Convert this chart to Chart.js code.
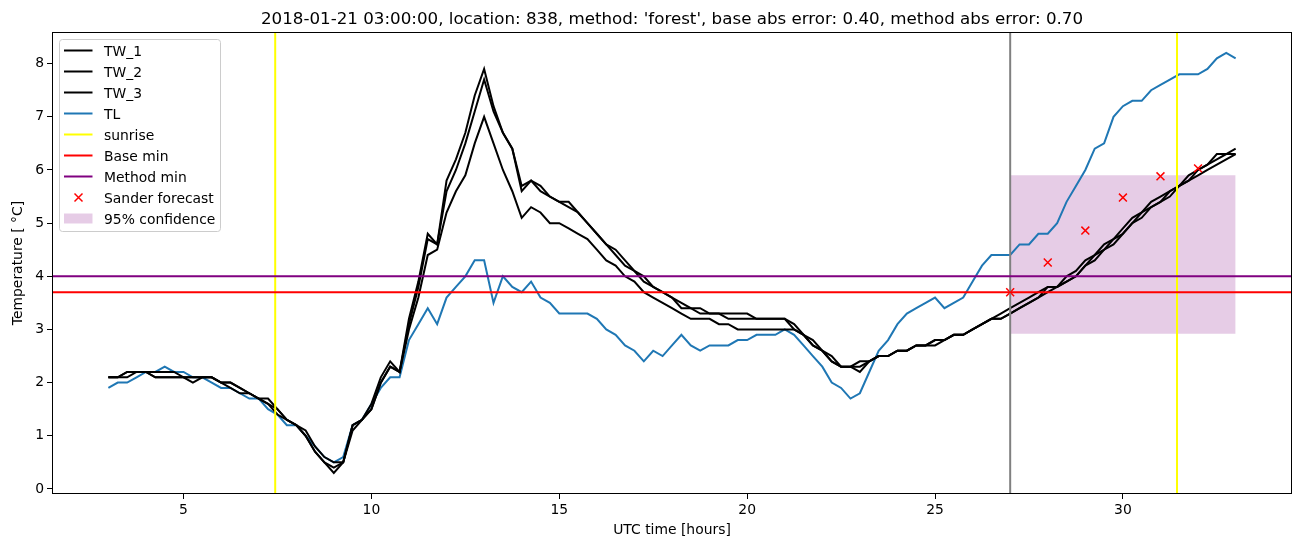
<!DOCTYPE html>
<html lang="en">
<head>
  <meta charset="UTF-8" />
  <title>Forecast location 838</title>
  <script src="https://cdn.jsdelivr.net/npm/chart.js"></script>
  <style>
    html, body { margin: 0; padding: 0; background: #fff; }
    #wrap { width: 1302px; height: 547px; position: relative; }
  </style>
</head>
<body>
  <div id="wrap"><canvas id="chart"></canvas></div>

  <script>
    // hours since 2018-01-21 00:00 UTC
    const hours = [
      3, 3.25, 3.5, 3.75, 4, 4.25, 4.5, 4.75, 5, 5.25, 5.5, 5.75,
      6, 6.25, 6.5, 6.75, 7, 7.25, 7.5, 7.75, 8, 8.25, 8.5, 8.75,
      9, 9.25, 9.5, 9.75, 10, 10.25, 10.5, 10.75, 11, 11.25, 11.5, 11.75,
      12, 12.25, 12.5, 12.75, 13, 13.25, 13.5, 13.75, 14, 14.25, 14.5, 14.75,
      15, 15.25, 15.5, 15.75, 16, 16.25, 16.5, 16.75, 17, 17.25, 17.5, 17.75,
      18, 18.25, 18.5, 18.75, 19, 19.25, 19.5, 19.75, 20, 20.25, 20.5, 20.75,
      21, 21.25, 21.5, 21.75, 22, 22.25, 22.5, 22.75, 23, 23.25, 23.5, 23.75,
      24, 24.25, 24.5, 24.75, 25, 25.25, 25.5, 25.75, 26, 26.25, 26.5, 26.75,
      27, 27.25, 27.5, 27.75, 28, 28.25, 28.5, 28.75, 29, 29.25, 29.5, 29.75,
      30, 30.25, 30.5, 30.75, 31, 31.25, 31.5, 31.75, 32, 32.25, 32.5, 32.75,
      33
    ];

    const tw1 = [
      2.1, 2.1, 2.2, 2.2, 2.2, 2.1, 2.1, 2.1, 2.1, 2.1, 2.1, 2.1,
      2.0, 2.0, 1.9, 1.8, 1.7, 1.7, 1.5, 1.3, 1.2, 1.1, 0.8, 0.6,
      0.5, 0.5, 1.2, 1.3, 1.6, 2.1, 2.4, 2.2, 3.2, 3.9, 4.8, 4.6,
      5.8, 6.2, 6.7, 7.4, 7.9, 7.2, 6.7, 6.4, 5.7, 5.8, 5.7, 5.5,
      5.4, 5.4, 5.2, 5.0, 4.8, 4.6, 4.5, 4.3, 4.1, 4.0, 3.8, 3.7,
      3.6, 3.5, 3.4, 3.4, 3.3, 3.3, 3.3, 3.3, 3.3, 3.2, 3.2, 3.2,
      3.2, 3.0, 2.9, 2.8, 2.6, 2.5, 2.3, 2.3, 2.4, 2.4, 2.5, 2.5,
      2.6, 2.6, 2.7, 2.7, 2.8, 2.8, 2.9, 2.9, 3.0, 3.1, 3.2, 3.3,
      3.4, 3.5, 3.6, 3.7, 3.8, 3.8, 4.0, 4.1, 4.3, 4.4, 4.6, 4.7,
      4.9, 5.1, 5.2, 5.4, 5.5, 5.6, 5.7, 5.9, 6.0, 6.1, 6.3, 6.3,
      6.4
    ];

    const tw2 = [
      2.1, 2.1, 2.1, 2.2, 2.2, 2.2, 2.2, 2.2, 2.1, 2.1, 2.1, 2.1,
      2.0, 2.0, 1.9, 1.8, 1.7, 1.6, 1.5, 1.3, 1.2, 1.0, 0.7, 0.5,
      0.4, 0.5, 1.2, 1.3, 1.5, 2.0, 2.3, 2.2, 3.1, 3.8, 4.7, 4.6,
      5.6, 6.0, 6.5, 7.1, 7.7, 7.1, 6.7, 6.4, 5.6, 5.8, 5.6, 5.5,
      5.4, 5.3, 5.2, 5.0, 4.8, 4.6, 4.4, 4.2, 4.1, 3.9, 3.8, 3.7,
      3.6, 3.4, 3.4, 3.3, 3.3, 3.3, 3.2, 3.2, 3.2, 3.2, 3.2, 3.2,
      3.2, 3.1, 2.9, 2.7, 2.6, 2.4, 2.3, 2.3, 2.2, 2.4, 2.5, 2.5,
      2.6, 2.6, 2.7, 2.7, 2.7, 2.8, 2.9, 2.9, 3.0, 3.1, 3.2, 3.2,
      3.3, 3.4, 3.5, 3.6, 3.7, 3.8, 3.9, 4.0, 4.2, 4.4, 4.5, 4.7,
      4.8, 5.0, 5.2, 5.3, 5.4, 5.6, 5.7, 5.8, 6.0, 6.1, 6.2, 6.3,
      6.3
    ];

    const tw3 = [
      2.1, 2.1, 2.2, 2.2, 2.2, 2.1, 2.1, 2.1, 2.1, 2.0, 2.1, 2.1,
      2.0, 1.9, 1.8, 1.8, 1.7, 1.6, 1.4, 1.3, 1.2, 1.0, 0.7, 0.5,
      0.3, 0.5, 1.1, 1.3, 1.5, 2.0, 2.3, 2.2, 3.0, 3.6, 4.4, 4.5,
      5.2, 5.6, 5.9, 6.5, 7.0, 6.5, 6.0, 5.6, 5.1, 5.3, 5.2, 5.0,
      5.0, 4.9, 4.8, 4.7, 4.5, 4.3, 4.2, 4.0, 3.9, 3.7, 3.6, 3.5,
      3.4, 3.3, 3.2, 3.2, 3.2, 3.1, 3.1, 3.0, 3.0, 3.0, 3.0, 3.0,
      3.0, 3.0, 2.9, 2.7, 2.6, 2.4, 2.3, 2.3, 2.3, 2.4, 2.5, 2.5,
      2.6, 2.6, 2.7, 2.7, 2.8, 2.8, 2.9, 2.9, 3.0, 3.1, 3.2, 3.2,
      3.3, 3.4, 3.5, 3.6, 3.8, 3.8, 3.9, 4.0, 4.2, 4.3, 4.5, 4.6,
      4.8, 5.0, 5.1, 5.3, 5.4, 5.5, 5.7, 5.8, 5.9, 6.0, 6.1, 6.2,
      6.3
    ];

    const tl = [
      1.9, 2.0, 2.0, 2.1, 2.2, 2.2, 2.3, 2.2, 2.2, 2.1, 2.1, 2.0,
      1.9, 1.9, 1.8, 1.7, 1.7, 1.5, 1.4, 1.2, 1.2, 1.0, 0.8, 0.6,
      0.5, 0.6, 1.2, 1.3, 1.6, 1.9, 2.1, 2.1, 2.8, 3.1, 3.4, 3.1,
      3.6, 3.8, 4.0, 4.3, 4.3, 3.5, 4.0, 3.8, 3.7, 3.9, 3.6, 3.5,
      3.3, 3.3, 3.3, 3.3, 3.2, 3.0, 2.9, 2.7, 2.6, 2.4, 2.6, 2.5,
      2.7, 2.9, 2.7, 2.6, 2.7, 2.7, 2.7, 2.8, 2.8, 2.9, 2.9, 2.9,
      3.0, 2.9, 2.7, 2.5, 2.3, 2.0, 1.9, 1.7, 1.8, 2.2, 2.6, 2.8,
      3.1, 3.3, 3.4, 3.5, 3.6, 3.4, 3.5, 3.6, 3.9, 4.2, 4.4, 4.4,
      4.4, 4.6, 4.6, 4.8, 4.8, 5.0, 5.4, 5.7, 6.0, 6.4, 6.5, 7.0,
      7.2, 7.3, 7.3, 7.5, 7.6, 7.7, 7.8, 7.8, 7.8, 7.9, 8.1, 8.2,
      8.1
    ];

    const sunriseHours = [7.44, 31.44];
    const forecastStart = 27;
    const baseMin = 3.7;
    const methodMin = 4.0;

    const forecastHours = [27, 28, 29, 30, 31, 32];
    const forecastValues = [3.70, 4.26, 4.86, 5.48, 5.88, 6.03];

    const confHours = [27, 33];
    const confLow = [2.92, 2.92];
    const confHigh = [5.90, 5.90];

    const xTicks = [5, 10, 15, 20, 25, 30];
    const yTicks = [0, 1, 2, 3, 4, 5, 6, 7, 8];

    const titleText = "2018-01-21 03:00:00, location: 838, method: 'forest', base abs error: 0.40, method abs error: 0.70";

    Chart.defaults.font.family = "'DejaVu Sans', sans-serif";
    Chart.defaults.color = '#000';

    const pts = (xs, ys) => xs.map((x, i) => ({ x: x, y: ys[i] }));

    function lineSet(label, ys, color) {
      return {
        label: label,
        data: pts(hours, ys),
        borderColor: color,
        borderWidth: 2,
        pointRadius: 0,
        tension: 0,
        fill: false,
        order: 5
      };
    }

    // axvline / axhline style reference lines, drawn on top of the series
    const refLines = {
      id: 'refLines',
      afterDatasetsDraw(chart) {
        const { ctx, chartArea: a, scales: { x, y } } = chart;
        ctx.save();
        ctx.beginPath();
        ctx.rect(a.left, a.top, a.right - a.left, a.bottom - a.top);
        ctx.clip();
        ctx.lineWidth = 2;
        const vline = (v, c) => {
          const px = x.getPixelForValue(v);
          ctx.strokeStyle = c;
          ctx.beginPath(); ctx.moveTo(px, a.top); ctx.lineTo(px, a.bottom); ctx.stroke();
        };
        const hline = (v, c) => {
          const py = y.getPixelForValue(v);
          ctx.strokeStyle = c;
          ctx.beginPath(); ctx.moveTo(a.left, py); ctx.lineTo(a.right, py); ctx.stroke();
        };
        vline(forecastStart, '#808080');
        sunriseHours.forEach(h => vline(h, '#ffff00'));
        hline(baseMin, '#ff0000');
        hline(methodMin, '#800080');
        ctx.restore();
      }
    };

    // frame, title and matplotlib-like legend
    const decor = {
      id: 'decor',
      afterDraw(chart) {
        const { ctx, chartArea: a } = chart;
        ctx.save();
        ctx.strokeStyle = '#000';
        ctx.lineWidth = 1;
        ctx.strokeRect(Math.round(a.left) + 0.5, Math.round(a.top) + 0.5,
          Math.round(a.right - a.left) - 1, Math.round(a.bottom - a.top) - 1);

        ctx.fillStyle = '#000';
        ctx.font = "16.7px 'DejaVu Sans'";
        ctx.textAlign = 'center';
        ctx.textBaseline = 'alphabetic';
        ctx.fillText(titleText, (a.left + a.right) / 2, 24);

        // legend
        const bx = 59.5, by = 39.5, bw = 161, bh = 192;
        ctx.beginPath();
        ctx.roundRect(bx, by, bw, bh, 3);
        ctx.fillStyle = 'rgba(255,255,255,0.8)';
        ctx.fill();
        ctx.strokeStyle = '#cccccc';
        ctx.stroke();

        const items = [
          { t: 'TW_1', k: 'line', c: '#000' },
          { t: 'TW_2', k: 'line', c: '#000' },
          { t: 'TW_3', k: 'line', c: '#000' },
          { t: 'TL', k: 'line', c: '#1f77b4' },
          { t: 'sunrise', k: 'line', c: '#ffff00' },
          { t: 'Base min', k: 'line', c: '#ff0000' },
          { t: 'Method min', k: 'line', c: '#800080' },
          { t: 'Sander forecast', k: 'cross', c: '#ff0000' },
          { t: '95% confidence', k: 'patch', c: 'rgba(128,0,128,0.2)' }
        ];
        ctx.font = "13.9px 'DejaVu Sans'";
        ctx.textAlign = 'left';
        items.forEach((it, i) => {
          const cy = 50.5 + i * 21;
          if (it.k === 'line') {
            ctx.strokeStyle = it.c; ctx.lineWidth = 2;
            ctx.beginPath(); ctx.moveTo(64, cy); ctx.lineTo(92.5, cy); ctx.stroke();
          } else if (it.k === 'cross') {
            ctx.strokeStyle = it.c; ctx.lineWidth = 1.5;
            ctx.beginPath();
            ctx.moveTo(74.5, cy - 4); ctx.lineTo(82.5, cy + 4);
            ctx.moveTo(74.5, cy + 4); ctx.lineTo(82.5, cy - 4);
            ctx.stroke();
          } else {
            ctx.fillStyle = it.c;
            ctx.fillRect(64, cy - 5, 28.5, 10);
          }
          ctx.fillStyle = '#000';
          ctx.fillText(it.t, 104, cy + 5);
        });
        ctx.restore();
      }
    };

    const ctx = document.getElementById('chart').getContext('2d');
    new Chart(ctx, {
      type: 'line',
      data: {
        datasets: [
          lineSet('TW_1', tw1, '#000000'),
          lineSet('TW_2', tw2, '#000000'),
          lineSet('TW_3', tw3, '#000000'),
          lineSet('TL', tl, '#1f77b4'),
          {
            label: 'Sander forecast',
            data: pts(forecastHours, forecastValues),
            showLine: false,
            pointStyle: 'crossRot',
            pointRadius: 5.6,
            pointBorderWidth: 1.5,
            borderColor: '#ff0000',
            backgroundColor: '#ff0000',
            order: 1
          },
          {
            label: '95% confidence',
            data: pts(confHours, confHigh),
            borderWidth: 0,
            pointRadius: 0,
            backgroundColor: 'rgba(128,0,128,0.2)',
            fill: '+1',
            order: 6
          },
          {
            label: 'conf low',
            data: pts(confHours, confLow),
            borderWidth: 0,
            pointRadius: 0,
            fill: false,
            order: 6
          }
        ]
      },
      options: {
        responsive: true,
        maintainAspectRatio: false,
        devicePixelRatio: 1,
        animation: false,
        layout: { padding: { top: 32, right: 10, left: 0, bottom: 0 } },
        plugins: {
          legend: { display: false },
          tooltip: { enabled: false },
          title: { display: false }
        },
        scales: {
          x: {
            type: 'linear',
            min: 1.5,
            max: 34.5,
            afterBuildTicks: s => { s.ticks = xTicks.map(v => ({ value: v })); },
            afterFit: s => { s.height = 53; },
            ticks: { font: { size: 13.9 }, color: '#000', padding: 3, maxRotation: 0, autoSkip: false },
            grid: { drawOnChartArea: false, drawTicks: true, tickLength: 5, tickColor: '#000', tickWidth: 1 },
            border: { display: false },
            title: { display: true, text: 'UTC time [hours]', font: { size: 13.9 }, color: '#000', padding: { top: 4, bottom: 8 } }
          },
          y: {
            type: 'linear',
            min: -0.095,
            max: 8.595,
            afterBuildTicks: s => { s.ticks = yTicks.map(v => ({ value: v })); },
            afterFit: s => { s.width = 52; },
            ticks: { font: { size: 13.9 }, color: '#000', padding: 3, autoSkip: false },
            grid: { drawOnChartArea: false, drawTicks: true, tickLength: 5, tickColor: '#000', tickWidth: 1 },
            border: { display: false },
            title: { display: true, text: 'Temperature [ °C]', font: { size: 13.9 }, color: '#000', padding: { top: 10, bottom: 4 } }
          }
        }
      },
      plugins: [refLines, decor]
    });
  </script>
</body>
</html>
